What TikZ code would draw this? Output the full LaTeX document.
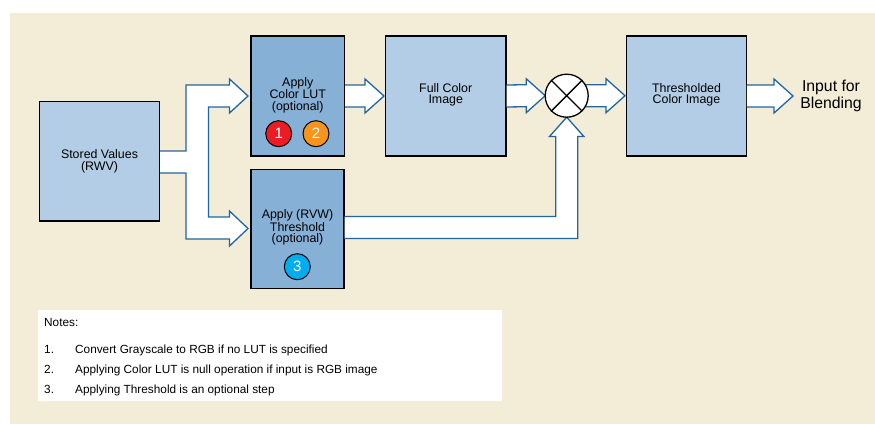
\documentclass[tikz,border=0pt]{standalone}
\usepackage{fontspec}
\setmainfont{Liberation Sans}
\usetikzlibrary{calc}
\definecolor{bgbeige}{HTML}{F3ECD6}
\definecolor{boxlight}{HTML}{B2CDE5}
\definecolor{boxdark}{HTML}{87B0D6}
\definecolor{arrowblue}{HTML}{21669F}
\definecolor{badgered}{HTML}{ED1C24}
\definecolor{badgeorange}{HTML}{F7941D}
\definecolor{badgecyan}{HTML}{00AEEF}
\tikzset{
  procbox/.style={draw=black, line width=1.2pt, inner sep=0pt, align=center,
    font=\fontsize{12.4}{11.2}\selectfont},
  boxtext/.style={inner sep=0pt, align=center, font=\fontsize{12.4}{11.2}\selectfont},
  badge/.style={circle, draw=black, line width=1pt, minimum size=26pt, inner sep=0pt,
    text=white, font=\fontsize{15}{15}\selectfont},
  arrowline/.style={draw=arrowblue, line width=1.3pt, line join=miter},
  arrowfill/.style={fill=white},
  notetext/.style={anchor=base west, inner sep=0pt, font=\fontsize{11.8}{12}\selectfont},
}
\newcommand\harrow[2]{%
  \fill[arrowfill] ($(#1)+(0,-11)$) -- ($(#2)+(-19,-11)$) -- ($(#2)+(-19,-17)$) -- (#2)
    -- ($(#2)+(-19,17)$) -- ($(#2)+(-19,11)$) -- ($(#1)+(0,11)$) -- cycle;
  \draw[arrowline] ($(#1)+(0,-11)$) -- ($(#2)+(-19,-11)$) -- ($(#2)+(-19,-17)$) -- (#2)
    -- ($(#2)+(-19,17)$) -- ($(#2)+(-19,11)$) -- ($(#1)+(0,11)$);
}
\begin{document}
\begin{tikzpicture}[x=1pt,y=-1pt]
\useasboundingbox (0,0) rectangle (875,424);
\fill[bgbeige] (10,13) rectangle (875,424);

% boxes
\node[procbox, fill=boxlight, minimum width=120pt, minimum height=119.5pt] (sv) at (99.5,161.25) {Stored Values\\(RWV)};
\node[procbox, fill=boxdark, minimum width=93.5pt, minimum height=120pt] (lut) at (297.75,96) {};
\node[boxtext] (lutt) at (297.75,95) {Apply\\Color LUT\\(optional)};
\node[procbox, fill=boxdark, minimum width=93pt, minimum height=119pt] (thr) at (297.5,228.7) {};
\node[boxtext] (thrt) at (297.5,227.5) {Apply (RVW)\\Threshold\\(optional)};
\node[procbox, fill=boxlight, minimum width=120.5pt, minimum height=120pt] (full) at (445.75,96) {};
\node[boxtext] (fullt) at (445.75,95) {Full Color\\Image};
\node[procbox, fill=boxlight, minimum width=119.6pt, minimum height=120pt] (thc) at (686.5,96) {};
\node[boxtext] (thct) at (686.5,95) {Thresholded\\Color Image};
\node[align=center, inner sep=0pt, font=\fontsize{15.8}{16.5}\selectfont] (out) at (831,96) {Input for\\Blending};

% badges
\node[badge, fill=badgered] (b1) at (278.7,133.7) {1};
\node[badge, fill=badgeorange] (b2) at (316,133.7) {2};
\node[badge, fill=badgecyan] (b3) at (297.3,266.7) {3};

% fork arrow from stored values
\coordinate (fs) at (sv.east |- 0,162);
\fill[arrowfill] ($(fs)+(0,-11)$) -- (186,151) -- (186,85) -- (229.5,85) -- (229.5,79) -- (248,96) -- (229.5,113)
  -- (229.5,107) -- (208.5,107) -- (208.5,217) -- (229.5,217) -- (229.5,211) -- (248,228.5) -- (229.5,246)
  -- (229.5,239) -- (186,239) -- (186,173) -- ($(fs)+(0,11)$) -- cycle;
\draw[arrowline] ($(fs)+(0,-11)$) -- (186,151) -- (186,85) -- (229.5,85) -- (229.5,79) -- (248,96) -- (229.5,113)
  -- (229.5,107) -- (208.5,107) -- (208.5,217) -- (229.5,217) -- (229.5,211) -- (248,228.5) -- (229.5,246)
  -- (229.5,239) -- (186,239) -- (186,173) -- ($(fs)+(0,11)$);

% straight arrows
\coordinate (a1s) at (lut.east |- 0,96);
\coordinate (a1t) at (384,96);
\harrow{a1s}{a1t}
\coordinate (a2s) at (full.east |- 0,96);
\coordinate (a2t) at (545.2,95.7);
\harrow{a2s}{a2t}
\coordinate (a3s) at (585.5,95.7);
\coordinate (a3t) at (625,95.7);
\harrow{a3s}{a3t}
\coordinate (a4s) at (thc.east |- 0,96);
\coordinate (a4t) at (793,96);
\harrow{a4s}{a4t}

% threshold to multiplier
\coordinate (ts) at (thr.east |- 0,227.5);
\coordinate (mtip) at (566.7,117.2);
\fill[arrowfill] ($(ts)+(0,-11)$) -- (555.7,216.5) -- (555.7,136.5) -- (549.5,136.5) -- (mtip)
  -- (583.9,136.5) -- (577.7,136.5) -- (577.7,238.5) -- ($(ts)+(0,11)$) -- cycle;
\draw[arrowline] ($(ts)+(0,-11)$) -- (555.7,216.5) -- (555.7,136.5) -- (549.5,136.5) -- (mtip)
  -- (583.9,136.5) -- (577.7,136.5) -- (577.7,238.5) -- ($(ts)+(0,11)$);

% multiplier
\node[circle, draw=black, line width=1.3pt, fill=white, minimum size=43pt, inner sep=0pt] (mult) at (566.7,95.7) {};
\draw[line width=1.3pt] (mult.north west) -- (mult.south east) (mult.north east) -- (mult.south west);

% notes
\fill[white] (38,310) rectangle (501.7,400.7);
\node[notetext] (n0) at (44,326.3) {Notes:};
\node[notetext] (n1) at (44,353.3) {1.};
\node[notetext] (t1) at (75,353.3) {Convert Grayscale to RGB if no LUT is specified};
\node[notetext] (n2) at (44,373.3) {2.};
\node[notetext] (t2) at (75,373.3) {Applying Color LUT is null operation if input is RGB image};
\node[notetext] (n3) at (44,393.3) {3.};
\node[notetext] (t3) at (75,393.3) {Applying Threshold is an optional step};
\end{tikzpicture}
\end{document}
